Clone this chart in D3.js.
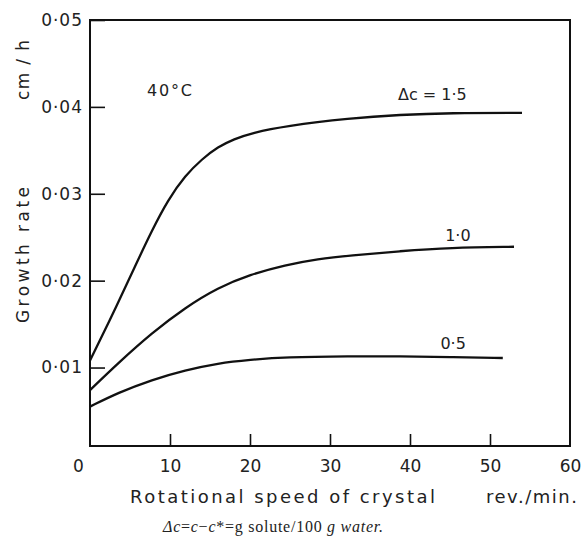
<!DOCTYPE html>
<html>
<head>
<meta charset="utf-8">
<script src="https://cdn.jsdelivr.net/npm/d3@7"></script>
<style>
  body { margin: 0; background: #fff; }
  text { fill: #222; }
</style>
</head>
<body>
<svg width="584" height="552"></svg>
<script>
const svg = d3.select("svg");

// readings (speed in rev/min, growth rate in cm/h)
const dc15Speed = [0, 3.5, 5.6, 7.75, 9.75, 11.9, 14, 16, 18, 20.25, 24.4, 32.5, 38.75, 45, 54];
const dc15Rate  = [0.0108, 0.0174, 0.0216, 0.0258, 0.0293, 0.0321, 0.0340, 0.0354, 0.0363, 0.0370, 0.0378, 0.0387, 0.0391, 0.0393, 0.0393];

const dc10Speed = [0, 3.5, 7.75, 11.9, 16, 20, 24.4, 28.5, 32.5, 38.75, 45, 53];
const dc10Rate  = [0.0074, 0.0105, 0.0140, 0.0169, 0.0192, 0.0207, 0.0218, 0.0225, 0.0229, 0.0234, 0.0238, 0.0239];

const dc05Speed = [0, 3.5, 7.75, 11.9, 16, 20, 24.4, 32.5, 38.75, 45, 51.6];
const dc05Rate  = [0.0055, 0.0071, 0.0086, 0.0097, 0.0105, 0.0109, 0.0112, 0.0113, 0.0113, 0.0112, 0.0111];

const seriesNames = ["Δc = 1·5", "1·0", "0·5"];
const xTicks = [0, 10, 20, 30, 40, 50, 60];
const yTicks = [0.01, 0.02, 0.03, 0.04, 0.05];

const series = [
  { name: seriesNames[0], speed: dc15Speed, rate: dc15Rate },
  { name: seriesNames[1], speed: dc10Speed, rate: dc10Rate },
  { name: seriesNames[2], speed: dc05Speed, rate: dc05Rate }
].map(s => ({ name: s.name, pts: s.speed.map((v, i) => [v, s.rate[i]]) }));

const x = d3.scaleLinear().domain([0, 60]).range([90, 570]);
const y = d3.scaleLinear().domain([0.00097, 0.05]).range([446, 20]);

const fmt = d => d3.format(".2f")(d).replace(".", "·");

// frame
svg.append("rect")
  .attr("x", x(0)).attr("y", y(0.05))
  .attr("width", x(60) - x(0)).attr("height", y.range()[0] - y(0.05))
  .attr("fill", "none").attr("stroke", "#111").attr("stroke-width", 2);

// y axis, ticks pointing inward
const yAxis = svg.append("g")
  .attr("transform", `translate(${x(0)},0)`)
  .call(d3.axisLeft(y).tickValues(yTicks).tickFormat(fmt).tickSizeInner(-15).tickSizeOuter(0).tickPadding(7));
yAxis.select(".domain").remove();
yAxis.selectAll("line").attr("stroke", "#111").attr("stroke-width", 1.6);
yAxis.selectAll("text").attr("font-family", "DejaVu Sans").attr("font-size", 17)
  .attr("letter-spacing", 1).attr("fill", "#222");

// x axis, ticks pointing up
const xAxis = svg.append("g")
  .attr("transform", `translate(0,${y.range()[0]})`)
  .call(d3.axisBottom(x).tickValues(xTicks).tickFormat(d3.format("d")).tickSizeInner(-12).tickSizeOuter(0).tickPadding(14));
xAxis.select(".domain").remove();
xAxis.selectAll("line").attr("stroke", "#111").attr("stroke-width", 1.6)
  .filter(d => d === 0 || d === 60).remove();
xAxis.selectAll("text").attr("font-family", "DejaVu Sans").attr("font-size", 17).attr("fill", "#222");
xAxis.selectAll(".tick").filter(d => d === 0).select("text").attr("dx", -12);

// curves
const line = d3.line()
  .x(d => x(d[0]))
  .y(d => y(d[1]))
  .curve(d3.curveBasis);

svg.append("g").selectAll("path").data(series)
  .enter().append("path")
    .attr("d", d => line(d.pts))
    .attr("fill", "none")
    .attr("stroke", "#111")
    .attr("stroke-width", 2.3);

// curve labels
const labelPos = [[38.5, 0.0408], [44.4, 0.0246], [43.8, 0.0121]];
svg.append("g").selectAll("text").data(series)
  .enter().append("text")
    .attr("x", (d, i) => x(labelPos[i][0]))
    .attr("y", (d, i) => y(labelPos[i][1]))
    .attr("font-family", "DejaVu Sans")
    .attr("font-size", 16)
    .text(d => d.name);

svg.append("text")
  .attr("x", 147).attr("y", 96)
  .attr("font-family", "DejaVu Sans").attr("font-size", 16)
  .attr("textLength", 45).attr("lengthAdjust", "spacing")
  .text("40°C");

// axis titles
svg.append("text")
  .attr("x", 130).attr("y", 503)
  .attr("font-family", "DejaVu Sans").attr("font-size", 18)
  .attr("textLength", 305).attr("lengthAdjust", "spacing")
  .text("Rotational speed of crystal");

svg.append("text")
  .attr("x", 486).attr("y", 503)
  .attr("font-family", "DejaVu Sans").attr("font-size", 18)
  .attr("textLength", 91).attr("lengthAdjust", "spacing")
  .text("rev./min.");

svg.append("text")
  .attr("transform", "translate(29,323) rotate(-90)")
  .attr("font-family", "DejaVu Sans").attr("font-size", 17)
  .attr("textLength", 136).attr("lengthAdjust", "spacing")
  .text("Growth rate");

svg.append("text")
  .attr("transform", "translate(29,100) rotate(-90)")
  .attr("font-family", "DejaVu Sans").attr("font-size", 17)
  .attr("textLength", 60).attr("lengthAdjust", "spacing")
  .text("cm / h");

// footnote
const note = svg.append("text")
  .attr("x", 163).attr("y", 532)
  .attr("font-family", "Liberation Serif").attr("font-size", 16)
  .attr("textLength", 220).attr("lengthAdjust", "spacing");
note.append("tspan").attr("font-style", "italic").text("Δc");
note.append("tspan").text("=");
note.append("tspan").attr("font-style", "italic").text("c");
note.append("tspan").text("−");
note.append("tspan").attr("font-style", "italic").text("c");
note.append("tspan").text("*=g solute/100 ");
note.append("tspan").attr("font-style", "italic").text("g water.");
</script>
</body>
</html>
